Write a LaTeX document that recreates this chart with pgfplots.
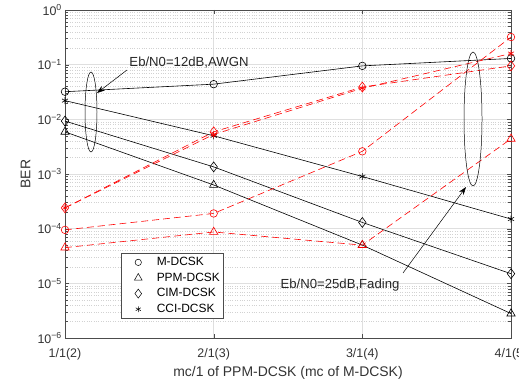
\documentclass[border=0pt]{standalone}
\usepackage{pgfplots}
\pgfplotsset{compat=1.18}
\usepackage{fontspec}
\setmainfont{Liberation Sans}
\usetikzlibrary{arrows.meta}
\begin{document}
\fontsize{12}{14}\selectfont
\begin{tikzpicture}[x=1bp,y=1bp]
\useasboundingbox (0,0) rectangle (519,387);
\begin{axis}[
  at={(65bp,49bp)}, anchor=south west,
  scale only axis, width=446bp, height=328bp,
  ymode=log, ymin=1e-6, ymax=1,
  xmin=1, xmax=4,
  xtick={1,2,3,4},
  xticklabels={1/1(2),2/1(3),3/1(4),4/1(5)},
  ytick={1e-6,1e-5,1e-4,1e-3,1e-2,1e-1,1},
  yticklabels={10\textsuperscript{−6},10\textsuperscript{−5},10\textsuperscript{−4},10\textsuperscript{−3},10\textsuperscript{−2},10\textsuperscript{−1},10\textsuperscript{0}},
  tick align=inside,
  grid=both,
  major grid style={gray!25, line width=0.4pt},
  minor grid style={gray!35, dotted, line width=0.4pt},
  axis line style={gray!60!black, line width=0.6pt},
  tick style={gray!60!black},
  xlabel={mc/1 of PPM-DCSK (mc of M-DCSK)},
  ylabel={BER},
  xticklabel style={yshift=-6bp},
  yticklabel style={xshift=1bp},
  xlabel style={yshift=2bp},
  ylabel style={yshift=-1bp},
  tick label style={font=\fontsize{12.5}{14}\selectfont, text=black!80},
  label style={font=\fontsize{14}{16}\selectfont, text=black!80},
  legend style={at={(0.1256,0.259)}, anchor=north west, font=\fontsize{12}{14}\selectfont,
    draw=black!70, line width=0.5pt, row sep=1.5bp, inner xsep=1.5bp, inner ysep=2bp},
  legend image code/.code={\path[draw=none, fill=none] (0bp,0bp) (32bp,0bp); \draw[#1] plot[only marks] coordinates {(15.5bp,0bp)};},
  legend cell align=left,
  clip=false,
]
\addlegendimage{only marks, mark=o, black, mark size=3.2pt}
\addlegendentry{M-DCSK}
\addlegendimage{only marks, mark=triangle, black, mark size=4.5pt}
\addlegendentry{PPM-DCSK}
\addlegendimage{only marks, mark=diamond, black, mark size=4.5pt}
\addlegendentry{CIM-DCSK}
\addlegendimage{only marks, mark=asterisk, black, mark size=3pt}
\addlegendentry{CCI-DCSK}
% AWGN 12 dB (black solid)
\addplot[black, line width=0.6pt, mark=o, mark size=3.8pt, forget plot] coordinates {(1,0.032) (2,0.044) (3,0.095) (4,0.13)};
\addplot[black, line width=0.6pt, mark=triangle, mark size=4.8pt, forget plot] coordinates {(1,5.9e-3) (2,6.3e-4) (3,5e-5) (4,2.8e-6)};
\addplot[black, line width=0.6pt, mark=diamond, mark size=5pt, forget plot] coordinates {(1,9.3e-3) (2,1.35e-3) (3,1.3e-4) (4,1.5e-5)};
\addplot[black, line width=0.6pt, mark=asterisk, mark size=3.5pt, forget plot] coordinates {(1,0.022) (2,5e-3) (3,9e-4) (4,1.5e-4)};
% Fading 25 dB (red dashed)
\addplot[red, line width=0.6pt, dash pattern=on 7pt off 4pt, mark=o, mark size=3.8pt, mark options={solid}, forget plot] coordinates {(1,9.5e-5) (2,1.9e-4) (3,2.6e-3) (4,0.32)};
\addplot[red, line width=0.6pt, dash pattern=on 7pt off 4pt, mark=triangle, mark size=4.8pt, mark options={solid}, forget plot] coordinates {(1,4.5e-5) (2,8.7e-5) (3,5e-5) (4,4.4e-3)};
\addplot[red, line width=0.6pt, dash pattern=on 7pt off 4pt, mark=diamond, mark size=5pt, mark options={solid}, forget plot] coordinates {(1,2.4e-4) (2,5.9e-3) (3,0.039) (4,0.095)};
\addplot[red, line width=0.6pt, dash pattern=on 7pt off 4pt, mark=asterisk, mark size=3.5pt, mark options={solid}, forget plot] coordinates {(1,2.4e-4) (2,5.3e-3) (3,0.037) (4,0.16)};
\end{axis}
% annotations
\draw[black, line width=0.5pt] (91,275) ellipse [x radius=6, y radius=40];
\draw[black, line width=0.5pt] (473,268) ellipse [x radius=9, y radius=67];
\draw[black, line width=0.5pt, -{Stealth[length=8pt, width=5.5pt]}] (127,317) -- (97,294);
\draw[black, line width=0.5pt, -{Stealth[length=8pt, width=5.5pt]}] (403,114) -- (466,200);
\node[text=black!85, inner sep=0pt, font=\fontsize{13.2}{15}\selectfont] at (189,324) {Eb/N0=12dB,AWGN};
\node[text=black!85, inner sep=0pt, font=\fontsize{13.2}{15}\selectfont] at (340,102) {Eb/N0=25dB,Fading};
\end{tikzpicture}
\end{document}
